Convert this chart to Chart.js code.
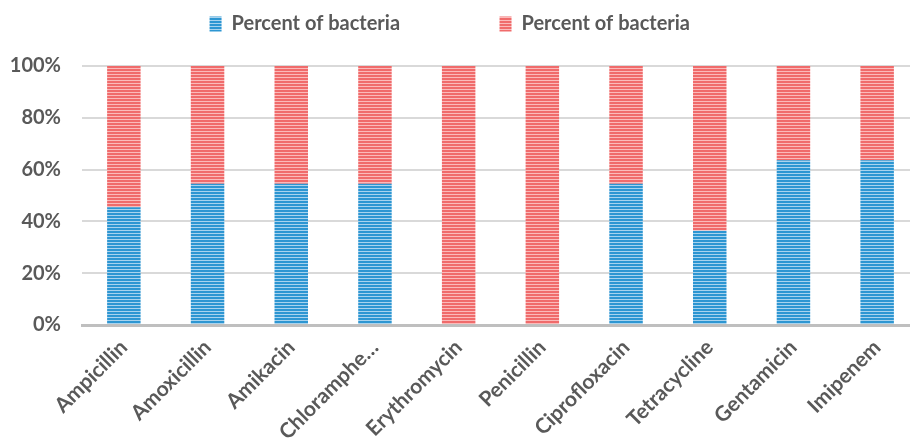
<!DOCTYPE html>
<html>
<head>
<meta charset="utf-8">
<script src="https://cdn.jsdelivr.net/npm/chart.js@4"></script>
<style>
  html, body { margin: 0; padding: 0; background: #fff; overflow: hidden; }
  #wrap { width: 910px; height: 440px; overflow: hidden; }
</style>
</head>
<body>
<div id="wrap"><canvas id="BarChart" width="920" height="440"></canvas></div>
<script>
// Antibiotics on the x axis
const categories = ['Ampicillin', 'Amoxicillin', 'Amikacin', 'Chloramphe\u2026', 'Erythromycin',
    'Penicillin', 'Ciprofloxacin', 'Tetracycline', 'Gentamicin', 'Imipenem'];
// Blue series (bottom) and red series (top), in percent
const blueValues = [45.45, 54.55, 54.55, 54.55, 0, 0, 54.55, 36.36, 63.64, 63.64];
const redValues = [54.55, 45.45, 45.45, 45.45, 100, 100, 45.45, 63.64, 36.36, 36.36];
const seriesNames = ['Percent of bacteria', 'Percent of bacteria'];
const yTicks = [0, 20, 40, 60, 80, 100];

// Horizontal stripe fill, like the Excel pattern
function stripes(dark, light) {
    const c = document.createElement('canvas');
    c.width = 4;
    c.height = 3;
    const g = c.getContext('2d');
    g.fillStyle = dark;
    g.fillRect(0, 0, 4, 2);
    g.fillStyle = light;
    g.fillRect(0, 2, 4, 1);
    return g.createPattern(c, 'repeat');
}

// extra room under the legend
const legendMargin = {
    id: 'legendMargin',
    beforeInit(chart) {
        const fit = chart.legend.fit;
        chart.legend.fit = function () {
            fit.bind(chart.legend)();
            this.height += 22;
        };
    }
};

const ctx = document.getElementById('BarChart').getContext('2d');
const bluePattern = stripes('#2d96d2', '#a8d3ee');
const redPattern = stripes('#f06b6b', '#fbbaba');

new Chart(ctx, {
    type: 'bar',
    data: {
        labels: categories,
        datasets: [
            { label: seriesNames[0], data: blueValues, backgroundColor: bluePattern, borderWidth: 0 },
            { label: seriesNames[1], data: redValues, backgroundColor: redPattern, borderWidth: 0 }
        ]
    },
    plugins: [legendMargin],
    options: {
        responsive: false,
        animation: false,
        layout: { padding: { left: 0, right: 1, top: 2, bottom: 0 } },
        datasets: { bar: { barPercentage: 0.4, categoryPercentage: 1 } },
        plugins: {
            legend: {
                position: 'top',
                labels: {
                    boxWidth: 12,
                    boxHeight: 15,
                    padding: 12,
                    color: '#595959',
                    font: { family: 'Lato', size: 20, weight: 'bold' },
                    // wide gap between the two entries
                    generateLabels: chart => {
                        const items = Chart.defaults.plugins.legend.labels.generateLabels(chart);
                        items[0].text = items[0].text + ' '.repeat(18);
                        items[1].text = items[1].text + ' '.repeat(4);
                        return items;
                    }
                }
            },
            tooltip: { enabled: false }
        },
        scales: {
            x: {
                stacked: true,
                afterFit: scale => { scale.height = 115; },
                grid: { display: false, drawTicks: false },
                border: { color: '#bfbfbf', width: 3 },
                ticks: {
                    color: '#595959',
                    maxRotation: 45,
                    minRotation: 45,
                    padding: 10,
                    autoSkip: false,
                    font: { family: 'Lato', size: 21, weight: 'bold' }
                }
            },
            y: {
                stacked: true,
                min: 0,
                max: 100,
                afterFit: scale => { scale.width = 82; },
                afterBuildTicks: axis => { axis.ticks = yTicks.map(v => ({ value: v })); },
                grid: { color: '#d9d9d9', lineWidth: 2, drawTicks: false },
                border: { display: false },
                ticks: {
                    color: '#595959',
                    padding: 21,
                    callback: v => v + '%',
                    font: { family: 'Lato', size: 20, weight: 'bold' }
                }
            }
        }
    }
});
</script>
</body>
</html>
